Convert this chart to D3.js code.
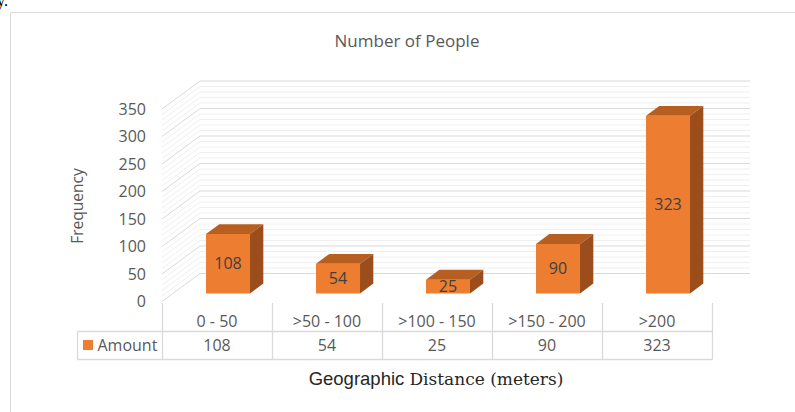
<!DOCTYPE html>
<html>
<head>
<meta charset="utf-8">
<script src="https://cdn.jsdelivr.net/npm/d3@7/dist/d3.min.js"></script>
<style>
  html, body { margin: 0; padding: 0; background: #fff; }
  svg { display: block; }
</style>
</head>
<body>
<svg id="chart" width="795" height="412"></svg>
<script>
// Data
const categories = ["0 - 50", ">50 - 100", ">100 - 150", ">150 - 200", ">200"];
const amounts = [108, 54, 25, 90, 323];
const seriesName = "Amount";
const yTicks = [0, 50, 100, 150, 200, 250, 300, 350];

const svg = d3.select("#chart");
const labelFont = "'Open Sans', 'Noto Sans', sans-serif";
const textGrey = "#595959";

// Frame of the chart area
svg.append("path")
  .attr("d", "M10.5,412 L10.5,12.5 L795,12.5")
  .attr("fill", "none").attr("stroke", "#d9d9d9").attr("stroke-width", 1);

// Fragment of running text above the frame
svg.append("text").attr("x", -3).attr("y", 6)
  .attr("font-family", "'Liberation Serif', serif").attr("font-size", 16)
  .attr("fill", "#000").text("y.");

// Scales
const x = d3.scaleBand().domain(categories).range([162, 712]);
const xBar = d3.scaleBand().domain(categories).range([162, 712])
  .paddingInner(0.6).paddingOuter(0.3);
const y = d3.scaleLinear().domain([0, 350]).range([301.5, 109]);

// Oblique depth projection
const DX = 38, DY = 28;
const P = (px, v, t) => [px + t * DX, y(v) - t * DY];
const T0 = 0.29, T1 = 0.64;

// Gridlines: back wall + side wall, minor every 10, major every 50
const gridVals = d3.range(0, 351, 10);
const grid = svg.append("g");
gridVals.forEach(v => {
  const major = v % 50 === 0;
  const a = P(162, v, 0), b = P(162, v, 1), c = P(712, v, 1);
  grid.append("path")
    .attr("d", `M${a[0]},${a[1]} L${b[0]},${b[1]} L${c[0]},${c[1]}`)
    .attr("fill", "none")
    .attr("stroke", major ? "#d9d9d9" : "#efefef")
    .attr("stroke-width", 1);
});

// Y axis labels
svg.append("g").selectAll("text").data(yTicks).join("text")
  .attr("x", 146).attr("y", d => y(d))
  .attr("dy", "0.35em")
  .attr("text-anchor", "end")
  .attr("font-family", labelFont).attr("font-size", 16)
  .attr("fill", textGrey)
  .text(d => d);

// Bars
const poly = pts => "M" + pts.map(p => p.join(",")).join("L") + "Z";
const bars = svg.append("g");
categories.forEach((c, i) => {
  const v = amounts[i];
  const x0 = xBar(c), x1 = x0 + xBar.bandwidth();
  const g = bars.append("g");
  // front face
  g.append("path").attr("d", poly([P(x0, 0, T0), P(x1, 0, T0), P(x1, v, T0), P(x0, v, T0)]))
    .attr("fill", "#ed7d31");
  // top face
  g.append("path").attr("d", poly([P(x0, v, T0), P(x1, v, T0), P(x1, v, T1), P(x0, v, T1)]))
    .attr("fill", "#b65f20");
  // side face
  g.append("path").attr("d", poly([P(x1, 0, T0), P(x1, v, T0), P(x1, v, T1), P(x1, 0, T1)]))
    .attr("fill", "#9b4e1b");
  // value label
  const cx = (P(x0, 0, T0)[0] + P(x1, 0, T0)[0]) / 2;
  const cy = (P(x0, 0, T0)[1] + P(x0, v, T0)[1]) / 2;
  g.append("text").attr("x", cx).attr("y", cy).attr("dy", "0.35em")
    .attr("text-anchor", "middle")
    .attr("font-family", labelFont).attr("font-size", 16)
    .attr("fill", "#404040").text(v);
});

// Chart title
svg.append("text").attr("x", 407).attr("y", 41).attr("dy", "0.35em")
  .attr("text-anchor", "middle")
  .attr("font-family", labelFont).attr("font-size", 17)
  .attr("fill", textGrey).text("Number of People");

// Y axis title
svg.append("text")
  .attr("transform", "translate(78,206) rotate(-90)")
  .attr("dy", "0.35em").attr("text-anchor", "middle")
  .attr("font-family", labelFont).attr("font-size", 15.5)
  .attr("fill", textGrey).text("Frequency");

// Data table
const tbl = svg.append("g");
const lineCol = "#d9d9d9";
const rowTop = 303, rowMid = 331.5, rowBot = 359.5, tblLeft = 77.5;
const xs = [...categories.map(c => x(c)), x(categories[categories.length - 1]) + x.bandwidth()];
xs.forEach(xv => {
  tbl.append("line").attr("x1", Math.round(xv) + 0.5).attr("x2", Math.round(xv) + 0.5)
    .attr("y1", rowTop).attr("y2", rowBot)
    .attr("stroke", lineCol).attr("stroke-width", 1.3);
});
tbl.append("line").attr("x1", tblLeft).attr("x2", tblLeft).attr("y1", rowMid).attr("y2", rowBot)
  .attr("stroke", lineCol).attr("stroke-width", 1.3);
[rowMid, rowBot].forEach(yy => {
  tbl.append("line").attr("x1", tblLeft).attr("x2", Math.round(xs[xs.length - 1]) + 0.5)
    .attr("y1", yy).attr("y2", yy)
    .attr("stroke", lineCol).attr("stroke-width", 1.3);
});
tbl.selectAll("text.cat").data(categories).join("text").attr("class", "cat")
  .attr("x", d => x(d) + x.bandwidth() / 2).attr("y", 321.5).attr("dy", "0.35em")
  .attr("text-anchor", "middle")
  .attr("font-family", labelFont).attr("font-size", 16)
  .attr("fill", textGrey).text(d => d);
tbl.selectAll("text.val").data(amounts).join("text").attr("class", "val")
  .attr("x", (d, i) => x(categories[i]) + x.bandwidth() / 2).attr("y", 345.5).attr("dy", "0.35em")
  .attr("text-anchor", "middle")
  .attr("font-family", labelFont).attr("font-size", 16)
  .attr("fill", textGrey).text(d => d);
tbl.append("rect").attr("x", 83).attr("y", 340).attr("width", 10).attr("height", 10)
  .attr("fill", "#ed7d31");
tbl.append("text").attr("x", 97.5).attr("y", 345.5).attr("dy", "0.35em")
  .attr("font-family", labelFont).attr("font-size", 16)
  .attr("fill", textGrey).text(seriesName);

// X axis title (mixed typefaces)
const xt = svg.append("text").attr("x", 436).attr("y", 385)
  .attr("text-anchor", "middle").attr("fill", "#262626").attr("font-size", 18.5);
xt.append("tspan").attr("font-family", "'Liberation Sans', Arial, sans-serif").text("Geographic ");
xt.append("tspan").attr("font-family", "'DejaVu Serif', 'Liberation Serif', serif")
  .attr("font-size", 17).text("Distance (meters)");
</script>
</body>
</html>
